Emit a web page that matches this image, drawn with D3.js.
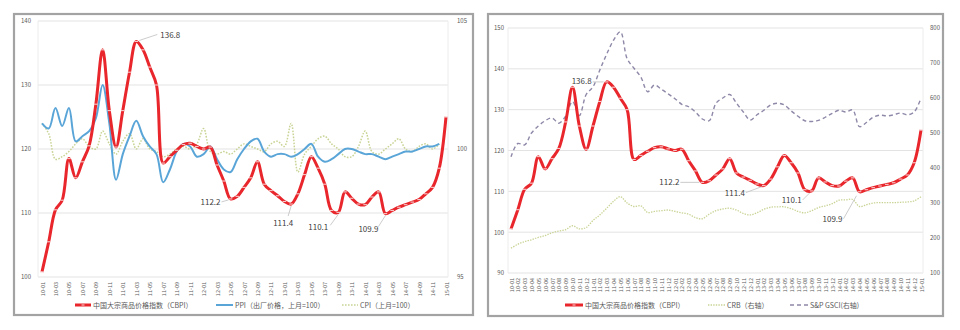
<!DOCTYPE html>
<html><head><meta charset="utf-8">
<script src="https://cdn.jsdelivr.net/npm/d3@7"></script>
<style>body{margin:0;background:#fff}svg{display:block}text{font-family:"Noto Sans CJK SC","Noto Sans",sans-serif}</style>
</head><body><svg id="c" width="960" height="330"></svg>
<script>
// ---------- DATA ----------
const months = ["10-01","10-02","10-03","10-04","10-05","10-06","10-07","10-08","10-09","10-10","10-11","10-12",
"11-01","11-02","11-03","11-04","11-05","11-06","11-07","11-08","11-09","11-10","11-11","11-12",
"12-01","12-02","12-03","12-04","12-05","12-06","12-07","12-08","12-09","12-10","12-11","12-12",
"13-01","13-02","13-03","13-04","13-05","13-06","13-07","13-08","13-09","13-10","13-11","13-12",
"14-01","14-02","14-03","14-04","14-05","14-06","14-07","14-08","14-09","14-10","14-11","14-12","15-01"];
const cbpi = [100.8,105.5,110.5,112.0,118.5,115.5,118.0,120.5,127.0,135.5,126.0,120.3,126.0,132.0,136.8,135.5,132.8,130.0,117.8,118.8,
119.8,120.7,120.9,120.4,120.0,120.3,117.5,115.0,112.2,112.6,114.0,115.5,118.0,114.5,113.5,112.7,111.8,111.4,113.0,116.0,
118.8,117.0,114.5,110.4,110.1,113.3,112.3,111.4,111.3,112.5,113.3,109.9,110.4,110.9,111.3,111.7,112.1,113.0,114.0,117.0,125.0];
const ppi = [101.0,100.8,101.6,100.9,101.6,100.3,100.5,100.7,101.2,102.5,101.0,98.8,99.8,100.5,101.1,100.5,100.1,99.8,98.7,99.2,
99.9,100.2,100.1,99.7,99.8,100.1,99.6,99.2,99.1,99.6,100.0,100.3,100.4,99.9,99.7,99.8,99.8,99.7,99.8,100.0,
100.2,99.7,99.5,99.6,99.8,100.0,100.0,99.9,99.8,99.8,99.7,99.6,99.7,99.8,99.9,99.9,100.0,100.1,100.1,100.2];
const cpi = [101.0,100.6,99.6,99.7,99.9,100.2,100.4,100.1,100.0,100.7,100.2,99.8,100.3,100.6,100.0,100.4,100.0,99.9,99.7,99.8,
100.0,100.1,100.0,100.2,100.8,99.9,99.8,99.9,99.8,100.0,100.2,100.1,100.0,99.9,100.2,100.3,100.1,101.0,99.1,99.8,
100.1,100.4,100.5,100.2,100.0,99.7,99.7,100.1,100.7,99.9,99.8,100.0,100.2,100.4,100.0,99.9,100.1,100.2,100.0,100.2];
const crb = [171,182,190,195,202,207,215,220,224,235,226,230,250,266,285,305,318,300,290,292,
273,276,278,280,276,272,268,258,255,268,278,283,285,280,270,266,272,282,288,289,
289,284,276,272,278,287,292,298,308,309,310,290,295,300,301,301,301,302,303,306,318];
const gsci = [432,470,466,500,520,535,543,528,548,590,550,610,632,680,725,765,789,712,685,660,
618,637,625,612,598,582,575,560,540,535,585,600,610,585,560,537,552,565,580,585,
580,563,548,535,533,536,545,556,565,560,566,518,530,545,551,549,552,557,552,560,600];
const leftTicks = [100,110,120,130,140];
const leftRightTicks = [95,100,105];
const rightTicks = [90,100,110,120,130,140,150];
const rightRightTicks = [100,200,300,400,500,600,700,800];
const callouts = [{i:14,t:"136.8"},{i:28,t:"112.2"},{i:37,t:"111.4"},{i:44,t:"110.1"},{i:51,t:"109.9"}];
const legendLeft = ["中国大宗商品价格指数（CBPI）","PPI（出厂价格，上月=100）","CPI（上月=100）"];
const legendRight = ["中国大宗商品价格指数（CBPI）","CRB（右轴）","S&P GSCI(右轴)"];

// ---------- STYLE ----------
const RED="#e8262b", BLUE="#5aa5d8", GREEN="#c8d494", PURPLE="#8f88a8", GRID="#e3e3e3", TXT="#595959";
const svg=d3.select("#c");
const curve=d3.curveCatmullRom.alpha(0.5);

function frame(x0,y0,x1,y1){
  svg.append("rect").attr("x",x0).attr("y",y0).attr("width",x1-x0).attr("height",y1-y0)
    .attr("fill","#fff").attr("stroke","#a3a3a3").attr("stroke-width",2.2);
}
function redLine(g,x,y,data){
  const line=d3.line().x((d,i)=>x(months[i])).y(d=>y(d)).curve(curve);
  g.append("path").attr("d",line(data)).attr("fill","none").attr("stroke",RED).attr("stroke-width",3);
  g.selectAll(null).data(data).enter().append("line")
    .attr("x1",(d,i)=>x(months[i])-1.8).attr("x2",(d,i)=>x(months[i])+1.8)
    .attr("y1",d=>y(d)).attr("y2",d=>y(d)).attr("stroke","#f6c9c9").attr("stroke-width",1.1);
}
function series(g,x,y,data,color,w,dash){
  const line=d3.line().x((d,i)=>x(months[i])).y(d=>y(d)).curve(curve);
  g.append("path").attr("d",line(data)).attr("fill","none").attr("stroke",color).attr("stroke-width",w)
   .attr("stroke-dasharray",dash||null);
}
function yAxis(g,scale,ticks,x,anchorLeft){
  const ax=(anchorLeft?d3.axisRight(scale):d3.axisLeft(scale)).tickValues(ticks).tickSize(0).tickPadding(0);
  const a=g.append("g").attr("transform",`translate(${x},0)`).call(ax);
  a.select(".domain").remove();
  a.selectAll("text").attr("fill",TXT).attr("font-size",6);
}
function xAxis(g,scale,vals,y){
  const a=g.append("g").attr("transform",`translate(0,${y})`).call(d3.axisBottom(scale).tickValues(vals).tickSize(0).tickPadding(0));
  a.select(".domain").remove();
  a.selectAll("text").attr("fill",TXT).attr("font-size",5.5)
    .attr("transform","rotate(-90)").attr("text-anchor","end").attr("dx",-2).attr("dy",2).attr("y",0).attr("x",0);
}
function grid(g,scale,ticks,x0,x1){
  g.selectAll(null).data(ticks).enter().append("line").attr("x1",x0).attr("x2",x1)
   .attr("y1",d=>scale(d)).attr("y2",d=>scale(d)).attr("stroke",GRID).attr("stroke-width",1);
}
function vline(g,x,y0,y1){ g.append("line").attr("x1",x).attr("x2",x).attr("y1",y0).attr("y2",y1).attr("stroke","#ececec"); }
function callout(g,px,py,lx,ly,tx,ty,text,anchor){
  g.append("line").attr("x1",lx).attr("y1",ly).attr("x2",px).attr("y2",py).attr("stroke","#bfbfbf").attr("stroke-width",0.8);
  g.append("text").attr("x",tx).attr("y",ty).attr("text-anchor",anchor).attr("font-size",8).attr("fill","#404040").text(text);
}

// ---------- LEFT CHART ----------
frame(14,14,473,315);
const gL=svg.append("g");
const xL=d3.scalePoint().domain(months).range([42,446]);
const yL=d3.scaleLinear().domain([100,140]).range([277,21]);
const yLR=d3.scaleLinear().domain([95,105]).range([277,21]);
grid(gL,yL,leftTicks,38,448);
vline(gL,38,21,277); vline(gL,448,21,277);
yAxis(gL,yL,leftTicks,31,false);
yAxis(gL,yLR,leftRightTicks,457,true);
xAxis(gL,xL,months.filter((d,i)=>i%2===0),280);
series(gL,xL,yLR,cpi,GREEN,1.5,"1.6,1.4");
series(gL,xL,yLR,ppi,BLUE,2);
redLine(gL,xL,yL,cbpi);
{
  const P=i=>[xL(months[callouts[i].i]),yL(cbpi[callouts[i].i])];
  let [px,py]=P(0); callout(gL,px+3,py-1,px+21,py-7,px+24,py-3,callouts[0].t,"start");
  [px,py]=P(1); callout(gL,px-2,py+1,px-9,py+3,px-10,py+6,callouts[1].t,"end");
  [px,py]=P(2); callout(gL,px,py+2,px-3,py+12,px-8,py+22,callouts[2].t,"middle");
  [px,py]=P(3); callout(gL,px,py+2,px-8,py+13,px-20,py+18,callouts[3].t,"middle");
  [px,py]=P(4); callout(gL,px,py+2,px-7,py+13,px-17,py+18,callouts[4].t,"middle");
}
// legend left
{
  const y=305;
  gL.append("line").attr("x1",75).attr("x2",91).attr("y1",y).attr("y2",y).attr("stroke",RED).attr("stroke-width",3);
  gL.append("line").attr("x1",81.5).attr("x2",84.5).attr("y1",y).attr("y2",y).attr("stroke","#f6c9c9").attr("stroke-width",1.1);
  gL.append("text").attr("x",93).attr("y",y+2.5).attr("font-size",7).attr("fill",TXT).text(legendLeft[0]);
  gL.append("line").attr("x1",216).attr("x2",233).attr("y1",y).attr("y2",y).attr("stroke",BLUE).attr("stroke-width",2);
  gL.append("text").attr("x",235).attr("y",y+2.5).attr("font-size",7).attr("fill",TXT).text(legendLeft[1]);
  gL.append("line").attr("x1",342).attr("x2",358).attr("y1",y).attr("y2",y).attr("stroke",GREEN).attr("stroke-width",1.5).attr("stroke-dasharray","1.6,1.4");
  gL.append("text").attr("x",360).attr("y",y+2.5).attr("font-size",7).attr("fill",TXT).text(legendLeft[2]);
}

// ---------- RIGHT CHART ----------
frame(488,14,943,316);
const gR=svg.append("g");
const xR=d3.scalePoint().domain(months).range([511,921]);
const yR=d3.scaleLinear().domain([90,150]).range([273,28]);
const yRR=d3.scaleLinear().domain([100,800]).range([273,28]);
grid(gR,yR,rightTicks,508,923);
vline(gR,508,28,273); vline(gR,923,28,273);
yAxis(gR,yR,rightTicks,504,false);
yAxis(gR,yRR,rightRightTicks,930,true);
xAxis(gR,xR,months,276);
series(gR,xR,yRR,crb,GREEN,1.3,"1.4,1.2");
series(gR,xR,yRR,gsci,PURPLE,1.4,"4,3");
redLine(gR,xR,yR,cbpi);
{
  const P=i=>[xR(months[callouts[i].i]),yR(cbpi[callouts[i].i])];
  let [px,py]=P(0); callout(gR,px-3,py,px-14,py,px-15,py+2.5,callouts[0].t,"end");
  [px,py]=P(1); callout(gR,px-3,py,px-22,py,px-23,py+2.5,callouts[1].t,"end");
  [px,py]=P(2); callout(gR,px-2,py+1,px-18,py+7,px-19,py+10,callouts[2].t,"end");
  [px,py]=P(3); callout(gR,px-2,py+2,px-9,py+9,px-10,py+12,callouts[3].t,"end");
  [px,py]=P(4); callout(gR,px-3,py+4,px-16,py+27,px-17,py+30,callouts[4].t,"end");
}
{
  const y=305;
  gR.append("line").attr("x1",565).attr("x2",583).attr("y1",y).attr("y2",y).attr("stroke",RED).attr("stroke-width",3);
  gR.append("line").attr("x1",572.5).attr("x2",575.5).attr("y1",y).attr("y2",y).attr("stroke","#f6c9c9").attr("stroke-width",1.1);
  gR.append("text").attr("x",585).attr("y",y+2.5).attr("font-size",7).attr("fill",TXT).text(legendRight[0]);
  gR.append("line").attr("x1",708).attr("x2",725).attr("y1",y).attr("y2",y).attr("stroke",GREEN).attr("stroke-width",1.3).attr("stroke-dasharray","1.4,1.2");
  gR.append("text").attr("x",727).attr("y",y+2.5).attr("font-size",7).attr("fill",TXT).text(legendRight[1]);
  gR.append("line").attr("x1",790).attr("x2",808).attr("y1",y).attr("y2",y).attr("stroke",PURPLE).attr("stroke-width",1.4).attr("stroke-dasharray","4,3");
  gR.append("text").attr("x",810).attr("y",y+2.5).attr("font-size",7).attr("fill",TXT).text(legendRight[2]);
}
</script></body></html>
